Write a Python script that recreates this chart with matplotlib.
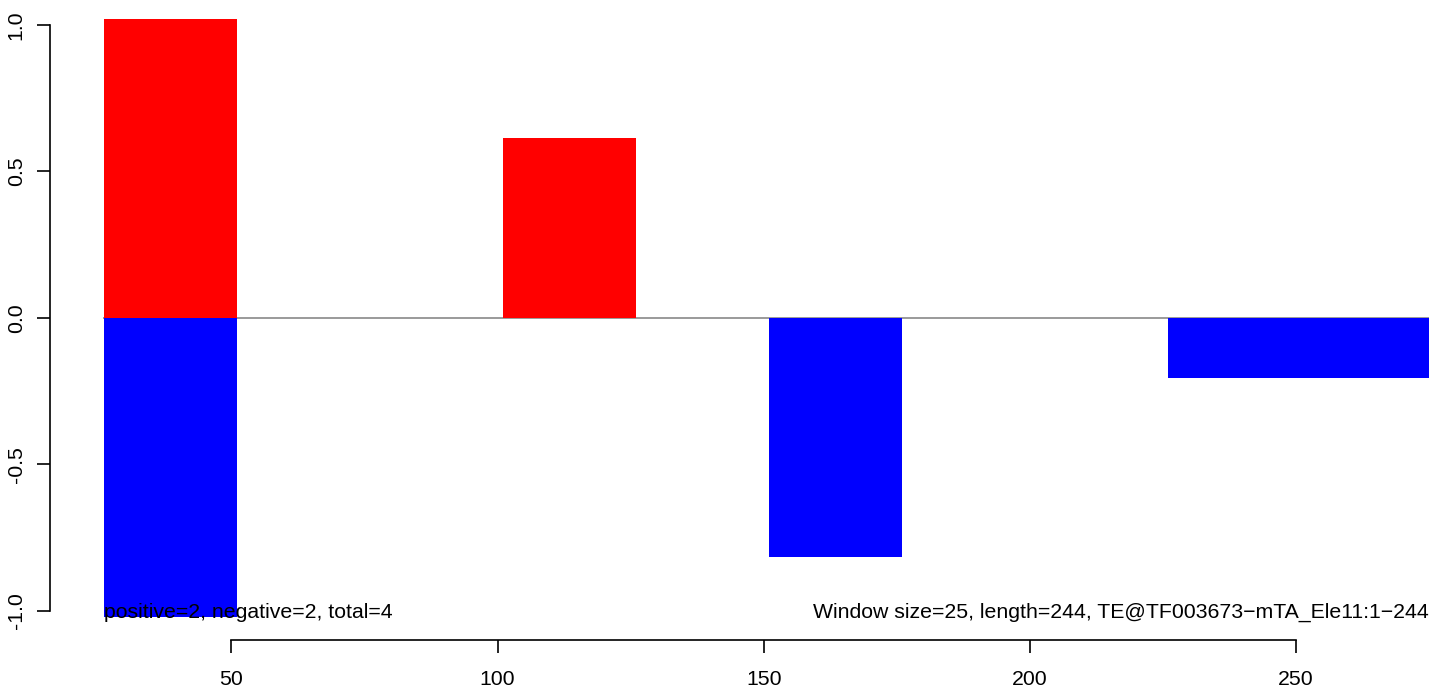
import numpy as np
import matplotlib.pyplot as plt

plt.rcParams['font.family'] = ['Liberation Sans', 'DejaVu Sans']
plt.rcParams['axes.unicode_minus'] = False

# window starts / ends and scores
win_start = [26, 101, 151, 226]
win_end = [51, 126, 176, 276]
pos_vals = [1.02, 0.614, 0.0, 0.0]
neg_vals = [-1.02, 0.0, -0.815, -0.205]

xticks = [50, 100, 150, 200, 250]
yticks = [-1.0, -0.5, 0.0, 0.5, 1.0]
ytick_labels = ['-1.0', '-0.5', '0.0', '0.5', '1.0']

left_note = "positive=2, negative=2, total=4"
right_note = "Window size=25, length=244, TE@TF003673\u2212mTA_Ele11:1\u2212244"

fs = 15.3

fig = plt.figure(figsize=(14.29, 6.88), dpi=100)
ax = fig.add_axes([50 / 1429, (688 - 640) / 688, 1 - 50 / 1429, 640 / 688])

starts = np.array(win_start)
widths = np.array(win_end) - starts

ax.plot([win_start[0], win_end[-1]], [0, 0], color='#9a9a9a', lw=1.4, zorder=1)
ax.bar(starts, pos_vals, width=widths, align='edge', color='#ff0000', zorder=2)
ax.bar(starts, neg_vals, width=widths, align='edge', color='#0000ff', zorder=2)

ax.set_xlim(15.9, 275.0)
ax.set_ylim(-1.099, 1.085)

ax.set_xticks(xticks)
ax.set_yticks(yticks)
ax.set_yticklabels(ytick_labels, rotation=90, va='center')
ax.tick_params(axis='both', labelsize=fs, length=9.4, width=1.2, color='black')
ax.tick_params(axis='x', pad=12)
ax.tick_params(axis='y', pad=8)

for s in ['top', 'right']:
    ax.spines[s].set_visible(False)
ax.spines['left'].set_bounds(-1.0, 1.0)
ax.spines['bottom'].set_bounds(50, 250)
ax.spines['left'].set_linewidth(1.2)
ax.spines['bottom'].set_linewidth(1.2)

ax.text(win_start[0], -1.005, left_note, ha='left', va='center', fontsize=fs, zorder=3)
ax.text(275.0, -1.005, right_note, ha='right', va='center', fontsize=fs, zorder=3)

plt.savefig("out.png", dpi=100, facecolor='w')
